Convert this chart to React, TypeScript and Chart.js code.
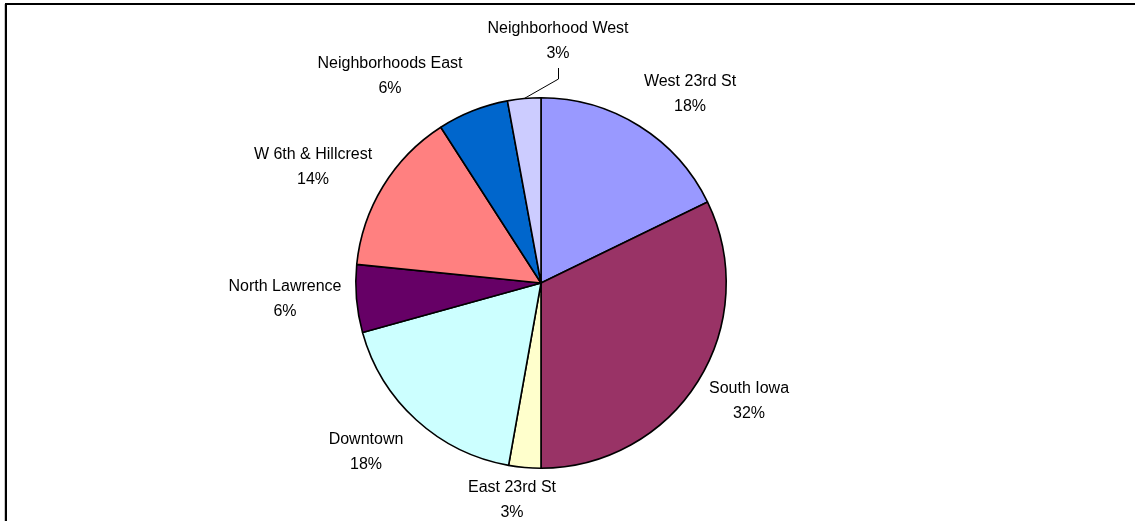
import React, { useEffect, useRef } from "react";
import { Chart, registerables } from "chart.js";

Chart.register(...registerables);

// ---- data ----
const categories = [
  "West 23rd St",
  "South Iowa",
  "East 23rd St",
  "Downtown",
  "North Lawrence",
  "W 6th & Hillcrest",
  "Neighborhoods East",
  "Neighborhood West",
];
const shares = [17.8, 32.2, 2.8, 17.9, 5.9, 14.3, 6.2, 2.9];
const sliceColors = [
  "#9999FF",
  "#993366",
  "#FFFFCC",
  "#CCFFFF",
  "#660066",
  "#FF8080",
  "#0066CC",
  "#CCCCFF",
];

// ---- label layout (offset of label centre from pie centre, px) ----
const labelOffsets: [number, number][] = [
  [149, -189],
  [208, 118],
  [-29, 217],
  [-175, 169],
  [-256, 16],
  [-228, -116],
  [-151, -207],
  [17, -242],
];
const leaderIndex = 7;

const W = 1135;
const H = 521;

const labelPlugin = {
  id: "excelLabels",
  afterDraw(chart: any) {
    const ctx = chart.ctx;
    // frame (top + left edges visible)
    ctx.save();
    ctx.fillStyle = "#c8c8c8";
    ctx.fillRect(4, 4, 1, H);
    ctx.fillStyle = "#000";
    ctx.fillRect(5, 3, W, 2);
    ctx.fillRect(5, 3, 2, H);
    ctx.restore();

    const meta = chart.getDatasetMeta(0);
    const data = chart.data.datasets[0].data as number[];
    const total = data.reduce((a, b) => a + b, 0);
    ctx.save();
    ctx.font = '16px "Liberation Sans", Arial, sans-serif';
    ctx.fillStyle = "#000";
    ctx.textAlign = "center";
    ctx.textBaseline = "middle";
    meta.data.forEach((arc: any, i: number) => {
      const { x, y, startAngle, endAngle, outerRadius } = arc.getProps(
        ["x", "y", "startAngle", "endAngle", "outerRadius"],
        true
      );
      const [ox, oy] = labelOffsets[i];
      const cx = x + ox;
      const cy = y + oy;
      const pct = Math.round((data[i] / total) * 100) + "%";
      ctx.fillText(chart.data.labels[i], cx, cy - 12.5);
      ctx.fillText(pct, cx, cy + 12.5);
      if (i === leaderIndex) {
        const mid = (startAngle + endAngle) / 2;
        const ex = x + Math.cos(mid) * outerRadius;
        const ey = y + Math.sin(mid) * outerRadius;
        ctx.strokeStyle = "#000";
        ctx.lineWidth = 1;
        ctx.beginPath();
        ctx.moveTo(Math.round(cx) + 0.5, cy + 27);
        ctx.lineTo(Math.round(cx) + 0.5, cy + 38);
        ctx.lineTo(ex, ey);
        ctx.stroke();
      }
    });
    ctx.restore();
  },
};

export default function App() {
  const ref = useRef<HTMLCanvasElement | null>(null);
  useEffect(() => {
    if (!ref.current) return;
    const chart = new Chart(ref.current, {
      type: "pie",
      data: {
        labels: categories,
        datasets: [
          {
            data: shares,
            backgroundColor: sliceColors,
            borderColor: "#000",
            borderWidth: 1.6,
          },
        ],
      },
      options: {
        responsive: false,
        animation: false,
        layout: { padding: { left: 355, right: 408, top: 97, bottom: 52 } },
        plugins: {
          legend: { display: false },
          tooltip: { enabled: false },
        },
      },
      plugins: [labelPlugin],
    });
    return () => chart.destroy();
  }, []);
  return (
    <div style={{ position: "absolute", left: 0, top: 0, width: W, height: H, background: "#fff" }}>
      <canvas ref={ref} width={W} height={H} style={{ display: "block" }} />
    </div>
  );
}
